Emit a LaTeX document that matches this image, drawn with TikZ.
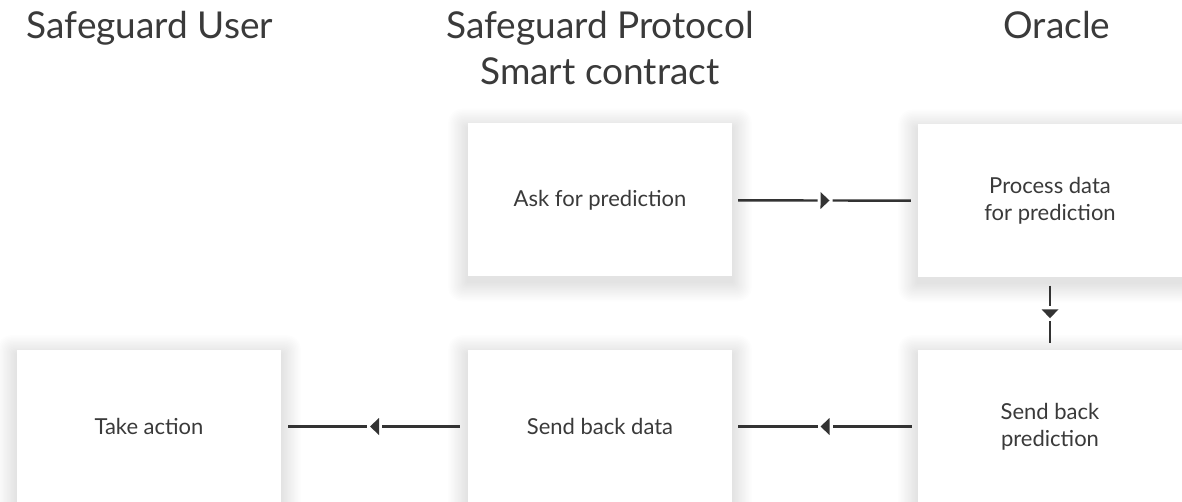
\documentclass[tikz,border=0pt]{standalone}
\usepackage{fontspec}
\setmainfont{Lato}
\usetikzlibrary{decorations.markings}
\definecolor{ink}{HTML}{3A3A3A}
\definecolor{arrowc}{HTML}{333333}
\pgfdeclarelayer{background}
\pgfsetlayers{background,main}
\tikzset{
  box/.style={fill=white, minimum width=264pt, minimum height=153pt, inner sep=0pt,
    align=center, font=\fontsize{22}{27}\selectfont, text=ink},
  head/.style={font=\fontsize{37}{46}\selectfont, text=ink, align=center, inner sep=0pt},
  shadowlayer/.style={fill=black, opacity=0.0068},
  flow/.style={draw=arrowc, line width=2.4pt, postaction={decorate},
    decoration={markings, mark=at position 0.5 with {
      \fill[white] (-7.5pt,-2pt) rectangle (7.5pt,2pt);
      \fill[arrowc] (-4.5pt,-8.5pt) -- (4.5pt,0pt) -- (-4.5pt,8.5pt) -- cycle;}}},
}
\newcommand\boxshadow[1]{%
  \foreach \i in {1,...,14}{%
    \fill[shadowlayer, rounded corners=\i pt]
      ([shift={(-\i*1.4pt,\i*1.4pt-5pt)}]#1.north west) rectangle
      ([shift={(\i*1.4pt,-\i*1.4pt-5pt)}]#1.south east);}}
\begin{document}
\begin{tikzpicture}[x=1pt,y=-1pt]
\useasboundingbox (0,0) rectangle (1182,502);
\begin{pgfonlayer}{background}
\fill[white] (0,0) rectangle (1182,502);
\end{pgfonlayer}
\clip (0,0) rectangle (1182,502);

\node[head, anchor=base] (huser) at (150,39) {Safeguard User};
\node[head, anchor=base] (hproto) at (600,85) {Safeguard Protocol\\Smart contract};
\node[head, anchor=base] (horacle) at (1057,39) {Oracle};

\node[box] (ask) at (600,200) {Ask for prediction};
\node[box] (proc) at (1050,201) {Process data\\for prediction};
\node[box] (take) at (149,426.5) {Take action};
\node[box] (data) at (600,426.5) {Send back data};
\node[box] (pred) at (1050,426.5) {Send back\\prediction};

\begin{pgfonlayer}{background}
\boxshadow{ask}\boxshadow{proc}\boxshadow{take}\boxshadow{data}\boxshadow{pred}
\end{pgfonlayer}

\draw[flow, shorten <=6pt, shorten >=7pt] (ask) -- (proc);
\draw[flow, shorten <=8pt, shorten >=7pt] (proc) -- (pred);
\draw[flow, shorten <=6pt, shorten >=6pt] (pred) -- (data);
\draw[flow, shorten <=8pt, shorten >=7pt] (data) -- (take);
\end{tikzpicture}
\end{document}
